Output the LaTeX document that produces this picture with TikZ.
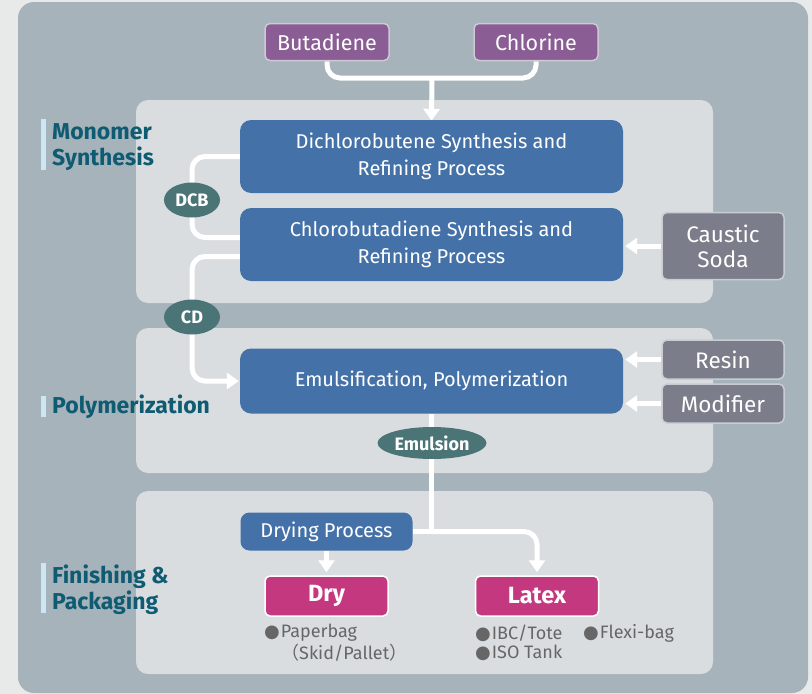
\documentclass[tikz,border=0pt]{standalone}
\usepackage{fontspec}
\setmainfont{Fira Sans}
\newfontfamily\dejavu{DejaVu Sans}
\newfontfamily\cjk{Noto Sans CJK JP}
\usetikzlibrary{arrows.meta,shapes.geometric}
\definecolor{pagebg}{HTML}{E8EAE9}
\definecolor{outerbg}{HTML}{A6B3BA}
\definecolor{panelbg}{HTML}{D9DDE0}
\definecolor{procblue}{HTML}{4472A8}
\definecolor{rawpurple}{HTML}{8A5D95}
\definecolor{rawborder}{HTML}{CFC8D6}
\definecolor{addgray}{HTML}{7B7E8A}
\definecolor{addborder}{HTML}{C9CDD3}
\definecolor{tagteal}{HTML}{4B7477}
\definecolor{prodmag}{HTML}{C4387F}
\definecolor{secteal}{HTML}{0F5B72}
\definecolor{barblue}{HTML}{CDE6F4}
\definecolor{bultext}{HTML}{666666}
\pgfdeclarelayer{bg}
\pgfdeclarelayer{wires}
\pgfsetlayers{bg,wires,main}
\tikzset{
  rawbox/.style={draw=rawborder, line width=1.5pt, fill=rawpurple, text=white, rounded corners=5pt,
    minimum width=124pt, minimum height=37pt, inner sep=0pt, font=\fontsize{21.5}{24}\selectfont},
  procbox/.style={fill=procblue, text=white, rounded corners=11pt, minimum width=383pt,
    minimum height=73pt, inner sep=0pt, align=center, font=\fontsize{20}{27}\selectfont},
  addbox/.style={draw=addborder, line width=1.5pt, fill=addgray, text=white, rounded corners=5pt,
    minimum width=122pt, inner sep=0pt, align=center, font=\fontsize{22.5}{25}\selectfont},
  tagell/.style={ellipse, fill=tagteal, text=white, inner sep=0pt, font=\bfseries\fontsize{18}{20}\selectfont},
  prodbox/.style={draw=white, line width=1.5pt, fill=prodmag, text=white, rounded corners=5pt,
    minimum width=123pt, minimum height=40pt, inner sep=0pt, font=\bfseries\fontsize{23.5}{26}\selectfont},
  seclabel/.style={anchor=west, text=secteal, align=left, inner sep=0pt, font=\bfseries\fontsize{23}{26}\selectfont},
  bullet/.style={anchor=west, text=bultext, inner sep=0pt, align=left, font=\fontsize{18}{20}\selectfont},
  wire/.style={draw=white, line width=5pt},
  tip/.style={-{Triangle[width=16pt,length=12pt]}},
  panel/.style={fill=panelbg, rounded corners=12pt}
}
\newcommand{\blt}{{\dejavu\fontsize{18}{18}\selectfont ●}\kern1pt}
\begin{document}
\begin{tikzpicture}[x=1pt,y=-1pt]
\useasboundingbox (0,0) rectangle (812,694);
\begin{pgfonlayer}{bg}
  \fill[pagebg] (0,0) rectangle (812,694);
  \fill[outerbg, rounded corners=16pt] (18,2) rectangle (808,693);
  \fill[panel] (136,100) rectangle (713,303);
  \fill[panel] (136,328) rectangle (713,473);
  \fill[panel] (136,491) rectangle (713,674);
  \fill[barblue] (41,119) rectangle (46,170);
  \fill[barblue] (41,396) rectangle (46,417);
  \fill[barblue] (41,563) rectangle (46,613);
\end{pgfonlayer}

% section labels
\node[seclabel] (lmono) at (52,147) {Monomer\\Synthesis};
\node[seclabel] (lpoly) at (52,407) {Polymerization};
\node[seclabel] (lfin) at (52,590) {Finishing \&\\Packaging};

% raw materials
\node[rawbox] (but) at (327,42) {Butadiene};
\node[rawbox] (chl) at (536,42) {Chlorine};
\coordinate (junc) at (432,78);

% process boxes
\node[procbox] (dcs) at (431.5,156.5) {Dichlorobutene Synthesis and\\Refining Process};
\node[procbox] (cbs) at (431.5,244.5) {Chlorobutadiene Synthesis and\\Refining Process};
\node[procbox, minimum height=65pt] (emu) at (431.5,381) {Emulsification, Polymerization};
\node[procbox, minimum width=172pt, minimum height=38pt, rounded corners=9pt] (dp) at (326.5,531.5) {Drying Process};

% additives
\node[addbox, minimum height=67pt] (cs) at (723,246) {Caustic\\Soda};
\node[addbox, minimum height=39pt] (res) at (723,359.5) {Resin};
\node[addbox, minimum height=39pt] (mod) at (723,403.5) {Modifier};

% intermediate tags
\node[tagell, minimum width=56pt, minimum height=35pt] (dcb) at (192,200) {DCB};
\node[tagell, minimum width=56pt, minimum height=35pt] (cd) at (192,317) {CD};
\node[tagell, minimum width=109pt, minimum height=32pt] (emn) at (432,443) {Emulsion};

% products
\node[prodbox] (dry) at (326.5,596) {Dry};
\node[prodbox] (lat) at (537,596) {Latex};

% bullet lists
\node[bullet] (b1) at (264,633) {\blt Paperbag};
\node[bullet] (b2) at (281,653) {{\cjk（}Skid/Pallet{\cjk）}};
\node[bullet] (b3) at (475,633) {\blt IBC/Tote};
\node[bullet] (b4) at (583,633) {\blt Flexi-bag};
\node[bullet] (b5) at (475,653) {\blt ISO Tank};

% connectors
\begin{pgfonlayer}{wires}
  \draw[wire, rounded corners=13pt] (but.south) |- (junc) -| (chl.south);
  \draw[wire, tip] (junc) -- ([yshift=-1pt]dcs.north);
  \draw[wire, rounded corners=13pt] (dcs.west) -| (dcb.center) |- ([yshift=7pt]cbs.west);
  \draw[wire, rounded corners=13pt, tip] ([yshift=-12pt]cbs.west) -| (cd.center) |- ([xshift=-1pt]emu.west);
  \draw[wire, tip] (cs.west) -- ([xshift=2pt]cs.west -| cbs.east);
  \draw[wire, tip] (res.west) -- ([xshift=2pt]res.west -| emu.east);
  \draw[wire, tip] (mod.west) -- ([xshift=2pt]mod.west -| emu.east);
  \draw[wire] (emu.south) -- (emu.south |- dp.east) -- (dp.east);
  \draw[wire, rounded corners=13pt, tip] (emu.south |- dp.east) -| ([yshift=3pt]lat.north);
  \draw[wire, tip] (dp.south) -- ([yshift=3pt]dry.north);
\end{pgfonlayer}
\end{tikzpicture}
\end{document}
